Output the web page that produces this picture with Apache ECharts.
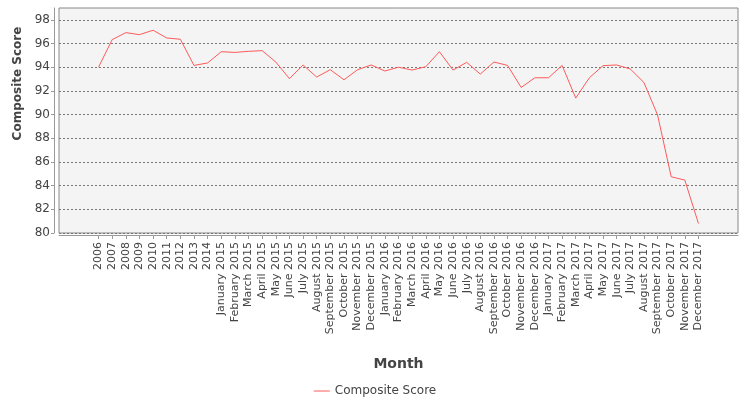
<!DOCTYPE html>
<html>
<head>
<meta charset="utf-8">
<script src="https://cdn.jsdelivr.net/npm/echarts@6/dist/echarts.min.js"></script>
<style>
  html, body { margin: 0; padding: 0; background: #fff; }
  #chart { width: 750px; height: 400px; }
</style>
</head>
<body>
<div id="chart"></div>
<script>
// x categories, one per point
const categories = [
  '2006', '2007', '2008', '2009', '2010', '2011', '2012', '2013', '2014',
  'January 2015', 'February 2015', 'March 2015', 'April 2015', 'May 2015', 'June 2015',
  'July 2015', 'August 2015', 'September 2015', 'October 2015', 'November 2015', 'December 2015',
  'January 2016', 'February 2016', 'March 2016', 'April 2016', 'May 2016', 'June 2016',
  'July 2016', 'August 2016', 'September 2016', 'October 2016', 'November 2016', 'December 2016',
  'January 2017', 'February 2017', 'March 2017', 'April 2017', 'May 2017', 'June 2017',
  'July 2017', 'August 2017', 'September 2017', 'October 2017', 'November 2017', 'December 2017'
];

const compositeScore = [
  94.0, 96.33, 96.92, 96.75, 97.12, 96.47, 96.36, 94.15, 94.36,
  95.31, 95.25, 95.34, 95.4, 94.44, 93.03,
  94.19, 93.17, 93.79, 92.94, 93.79, 94.19,
  93.68, 94.0, 93.76, 94.04, 95.31, 93.76,
  94.41, 93.42, 94.44, 94.15, 92.29, 93.11,
  93.11, 94.15, 91.39, 93.11, 94.13, 94.19,
  93.85, 92.71, 89.97, 84.75, 84.47, 80.8
];

const yTicks = [80, 82, 84, 86, 88, 90, 92, 94, 96, 98];

const xIndex = categories.map((c, i) => i);
const font = 'DejaVu Sans';

const chart = echarts.init(document.getElementById('chart'));
chart.setOption({
  animation: false,
  textStyle: { fontFamily: font },
  grid: {
    left: 59, right: 12, top: 8, bottom: 167,
    show: true,
    backgroundColor: '#f4f4f4',
    borderColor: '#888',
    borderWidth: 1
  },
  legend: {
    left: 'center',
    top: 380,
    itemWidth: 16,
    itemHeight: 1,
    itemGap: 10,
    icon: 'rect',
    textStyle: { fontFamily: font, fontSize: 12, color: '#444' },
    data: ['Composite Score']
  },
  xAxis: {
    type: 'value',
    min: -2.9,
    max: 46.9,
    offset: 2,
    name: 'Month',
    nameLocation: 'middle',
    nameGap: 122,
    nameTextStyle: { fontFamily: font, fontSize: 14, fontWeight: 'bold', color: '#444' },
    axisLine: { show: true, onZero: false, lineStyle: { color: '#999' } },
    axisTick: { show: true, length: 4, customValues: xIndex, lineStyle: { color: '#999' } },
    axisLabel: {
      customValues: xIndex,
      rotate: 90,
      margin: 7,
      fontSize: 11,
      color: '#444',
      fontFamily: font,
      formatter: v => categories[v]
    },
    splitLine: { show: false }
  },
  yAxis: {
    type: 'value',
    min: 80,
    max: 99,
    interval: 2,
    offset: 5,
    name: 'Composite Score',
    nameLocation: 'middle',
    nameGap: 30,
    nameTextStyle: {
      fontFamily: font, fontSize: 12, fontWeight: 'bold', color: '#444',
      padding: [0, 0, 0, 74]
    },
    axisLine: { show: true, onZero: false, lineStyle: { color: '#999' } },
    axisTick: { show: true, length: 3, customValues: yTicks, lineStyle: { color: '#999' } },
    axisLabel: { customValues: yTicks, margin: 4, fontSize: 12, color: '#444', fontFamily: font },
    splitLine: { show: true, lineStyle: { color: '#777', type: [2, 2], width: 1 } }
  },
  series: [{
    name: 'Composite Score',
    type: 'line',
    symbol: 'none',
    color: '#ff5a5a',
    lineStyle: { width: 1, color: '#ff5a5a' },
    data: compositeScore.map((v, i) => [xIndex[i], v])
  }]
});
</script>
</body>
</html>
